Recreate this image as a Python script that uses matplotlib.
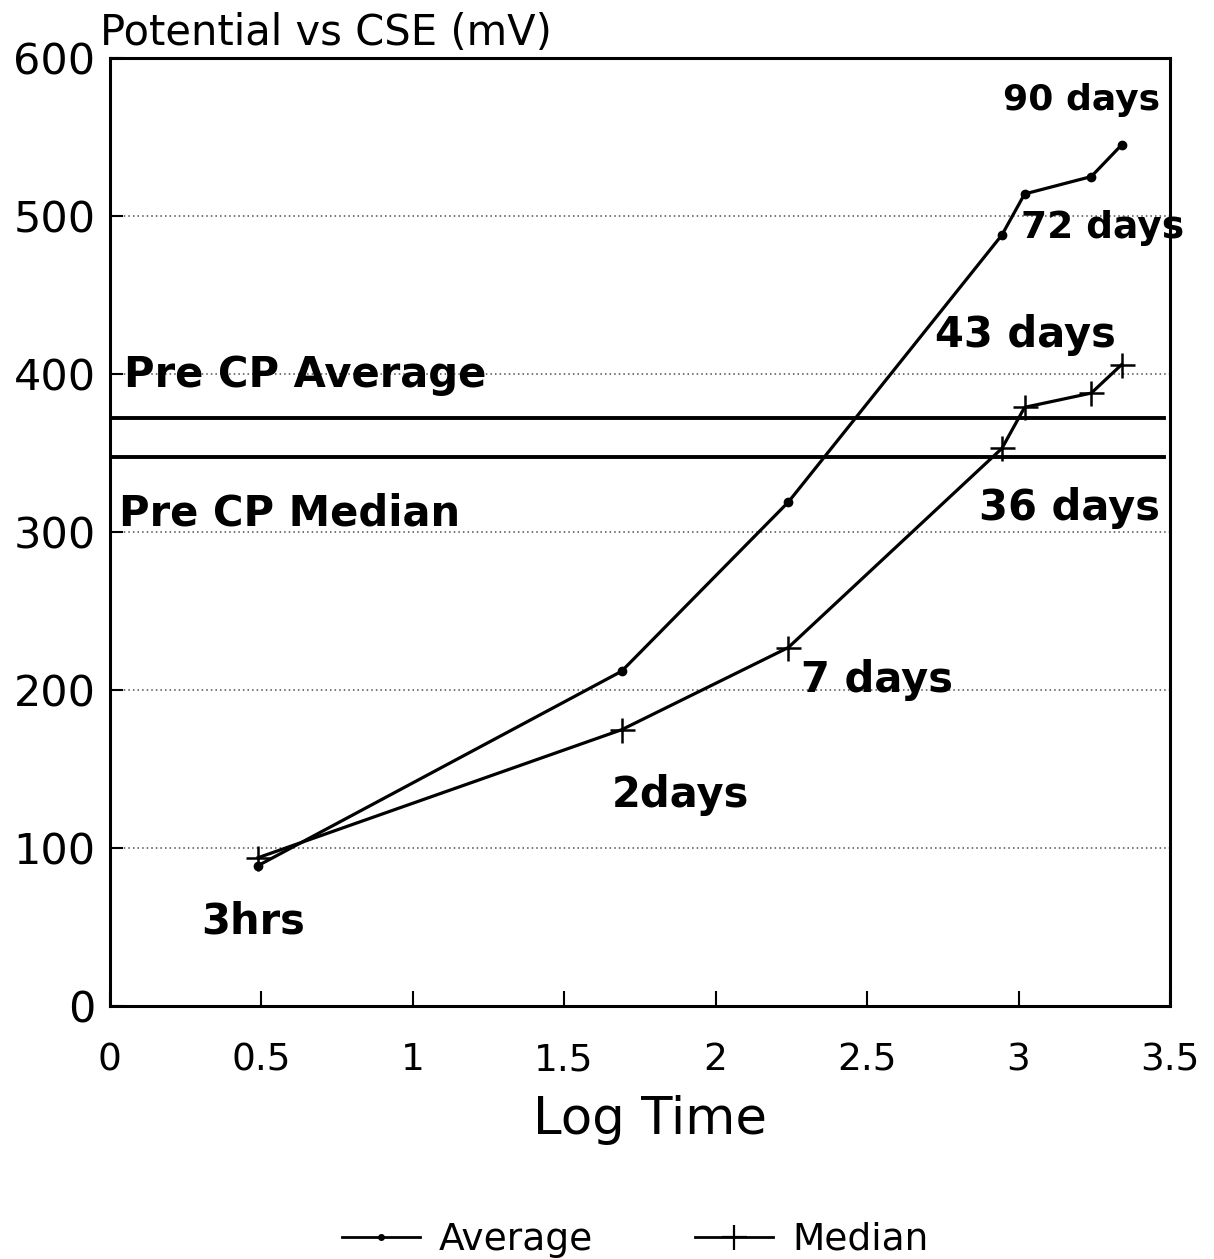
import matplotlib
matplotlib.use("Agg")
import matplotlib.pyplot as plt
from matplotlib.lines import Line2D

# ---- data ----
log_time = [0.49, 1.69, 2.24, 2.945, 3.02, 3.24, 3.34]
average_mv = [89, 212, 319, 488, 514, 525, 545]
median_mv = [94, 175, 227, 353, 379, 388, 406]
pre_cp_average = 372.5
pre_cp_median = 347.5

x_ticks = [0, 0.5, 1, 1.5, 2, 2.5, 3, 3.5]
x_tick_labels = ["0", "0.5", "1", "1.5", "2", "2.5", "3", "3.5"]
y_ticks = [0, 100, 200, 300, 400, 500, 600]

point_labels = ["3hrs", "2days", "7 days", "36 days", "43 days", "72 days", "90 days"]
point_label_x = [0.301, 1.657, 2.283, 2.870, 2.723, 3.009, 2.950]
point_label_y = [46, 126, 199, 308, 417, 486, 567]
point_label_size = [30, 30, 30, 30, 30, 27, 26]

plt.rcParams['font.family'] = ['DejaVu Sans']

fig = plt.figure(figsize=(12.14, 12.59), dpi=100)
ax = fig.add_axes([0.0902, 0.2007, 0.8736, 0.7532])

ax.set_xlim(0, 3.5)
ax.set_ylim(0, 600)

# dotted gridlines
for yv in y_ticks[1:-1]:
    ax.axhline(yv, color='0.3', lw=1.1, ls=(0, (1, 2)), zorder=1)

# Pre-CP reference lines
ax.plot([0, 3.48], [pre_cp_average, pre_cp_average], color='black', lw=2.8, zorder=2)
ax.plot([0, 3.48], [pre_cp_median, pre_cp_median], color='black', lw=2.8, zorder=2)

# series
ax.plot(log_time, average_mv, color='black', lw=2.3, marker='o', ms=6, zorder=3,
        label='Average')
ax.plot(log_time, median_mv, color='black', lw=2.3, marker='+', ms=18, mew=1.8,
        zorder=3, label='Median')

# annotations
for txt, xv, yv, fs in zip(point_labels, point_label_x, point_label_y, point_label_size):
    ax.text(xv, yv, txt, fontsize=fs, fontweight='bold', ha='left', va='baseline', zorder=4)
ax.text(0.047, 392, "Pre CP Average", fontsize=30, fontweight='bold', ha='left',
        va='baseline', zorder=4)
ax.text(0.030, 304, "Pre CP Median", fontsize=30, fontweight='bold', ha='left',
        va='baseline', zorder=4)

# axes styling
for sp in ax.spines.values():
    sp.set_linewidth(2.2)
ax.set_xticks(x_ticks)
ax.set_xticklabels(x_tick_labels)
ax.set_yticks(y_ticks)
ax.tick_params(axis='x', direction='in', length=11, width=1.5, labelsize=27, pad=26)
ax.tick_params(axis='y', direction='in', length=9, width=1.5, labelsize=31, pad=10)

# labels
fig.text(100 / 1214, 1 - 45 / 1259, "Potential vs CSE (mV)", fontsize=30,
         ha='left', va='baseline')
fig.text(650 / 1214, 1 - 1120 / 1259, "Log Time", fontsize=37, ha='center', va='center')

# legend
handles = [Line2D([0], [0], color='black', lw=2, marker='o', ms=4),
           Line2D([0], [0], color='black', lw=2, marker='+', ms=18, mew=1.6)]
fig.legend(handles, ['Average', 'Median'], loc='center',
           bbox_to_anchor=(635 / 1214, 1 - 1240 / 1259), ncol=2, frameon=False,
           fontsize=27, handlelength=2.1, handletextpad=0.5, columnspacing=2.7)

fig.savefig("out.png", dpi=100)
